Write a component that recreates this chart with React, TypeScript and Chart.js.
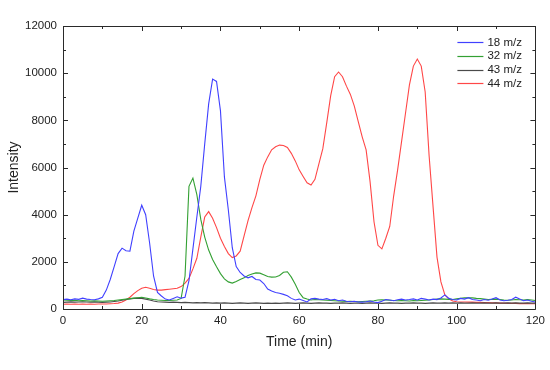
import React, { useEffect, useRef } from "react";
import { Chart, registerables } from "chart.js";

Chart.register(...registerables);

const seriesLabels = ["18 m/z", "32 m/z", "43 m/z", "44 m/z"];
const seriesColors = ["#4040ff", "#33a033", "#4a4a4a", "#ff4747"];

const xTickValues = [0, 20, 40, 60, 80, 100, 120];
const yTickValues = [0, 2000, 4000, 6000, 8000, 10000, 12000];

const mz18 = [
  400, 420, 390, 430, 410, 460, 420, 400, 390, 430,
  500, 800, 1250, 1800, 2350, 2580, 2470, 2450, 3300, 3850,
  4400, 4000, 2800, 1400, 700, 550, 420, 380, 450, 520,
  460, 500, 1200, 2550, 3900, 5200, 7000, 8700, 9750, 9650,
  8400, 5600, 4200, 2600, 1800, 1550, 1400, 1320, 1380, 1250,
  1230, 1080, 850, 760, 700, 670, 620, 560, 450, 380,
  420, 360, 300, 430, 450, 420, 400, 440, 380, 410,
  350, 380, 330, 310, 330, 300, 290, 310, 340, 300,
  270, 330, 400, 380, 350, 390, 420, 380, 400, 430,
  380, 450, 420, 380, 420, 400, 470, 600, 450, 400,
  380, 450, 420, 480, 400, 380, 350, 400, 370, 420,
  480, 380, 350, 370, 400, 500, 420, 350, 380, 330,
  300,
];

const mz32 = [
  380, 370, 360, 370, 350, 360, 350, 340, 350, 340,
  330, 340, 350, 360, 380, 400, 420, 440, 460, 480,
  500, 470, 430, 400, 380, 370, 360, 360, 370, 380,
  450, 1400, 5200, 5550, 4850, 3800, 3050, 2500, 2100, 1790,
  1500, 1280, 1150, 1100, 1170, 1250, 1320, 1420, 1480, 1530,
  1520, 1450, 1380, 1350, 1360, 1420, 1560, 1580, 1350, 1050,
  700, 480, 420, 380, 400, 390, 380, 370, 360, 350,
  340, 330, 320, 330, 320, 310, 320, 330, 340, 350,
  380, 390, 380, 370, 360, 350, 360, 350, 340, 360,
  350, 360, 370, 380, 400, 420, 430, 420, 410, 400,
  430, 450, 470, 480, 470, 450, 440, 420, 400, 410,
  420, 400, 380, 370, 380, 400, 390, 380, 400, 380,
  360,
];

const mz43 = [
  280, 290, 300, 290, 300, 310, 300, 290, 300, 290,
  280, 290, 300, 320, 340, 370, 400, 430, 450, 460,
  450, 420, 380, 340, 310, 300, 290, 280, 290, 280,
  270, 280, 270, 260, 270, 260, 270, 260, 250, 260,
  250, 260, 250, 240, 250, 260, 250, 240, 250, 260,
  250, 240, 250, 240, 250, 240, 250, 260, 250, 240,
  250, 260, 250, 240, 250, 260, 250, 250, 240, 250,
  250, 260, 250, 240, 250, 250, 240, 250, 260, 250,
  250, 240, 250, 260, 250, 250, 240, 250, 250, 260,
  250, 250, 240, 250, 260, 250, 250, 260, 250, 260,
  250, 260, 250, 250, 260, 250, 250, 260, 250, 250,
  260, 250, 250, 260, 250, 260, 250, 250, 260, 250,
  250,
];

const mz44 = [
  200, 210, 200, 210, 200, 210, 200, 210, 200, 210,
  210, 210, 220, 230, 250, 300, 380, 500, 650, 780,
  880, 920, 880, 830, 800, 800, 820, 840, 860, 880,
  950, 1100, 1300, 1700, 2150, 3050, 3900, 4130, 3850, 3450,
  3000, 2650, 2350, 2180, 2250, 2450, 3100, 3750, 4300, 4800,
  5500, 6100, 6450, 6750, 6880, 6950, 6930, 6850, 6600, 6280,
  5900, 5620, 5350, 5260, 5500, 6150, 6800, 7900, 9050, 9850,
  10050, 9850, 9450, 9100, 8600, 7950, 7300, 6750, 5400, 3700,
  2700, 2550, 3000, 3500, 4800, 5900, 7100, 8300, 9500, 10300,
  10600, 10300, 9200, 6500, 4340, 2200, 1150, 600, 430, 340,
  310, 300, 300, 290, 290, 280, 280, 270, 270, 260,
  260, 250, 250, 240, 240, 240, 230, 230, 230, 220,
  220,
];

const allSeries = [mz18, mz32, mz43, mz44];

const FONT = "'Liberation Sans', Arial, sans-serif";
const TEXT = "#222222";

const frameTicksPlugin = {
  id: "frameTicks",
  afterDatasetsDraw(chart: any) {
    const { ctx, chartArea } = chart;
    const { left, right, top, bottom } = chartArea;
    const xs = chart.scales.x;
    const ys = chart.scales.y;
    ctx.save();
    ctx.strokeStyle = "#2a2a2a";
    ctx.lineWidth = 1;
    ctx.beginPath();
    ctx.rect(Math.round(left) + 0.5, Math.round(top) + 0.5, Math.round(right - left), Math.round(bottom - top));
    ctx.stroke();
    ctx.beginPath();
    for (let v = 0; v <= 120; v += 10) {
      const len = v % 20 === 0 ? 5 : 3;
      const px = Math.round(xs.getPixelForValue(v)) + 0.5;
      ctx.moveTo(px, bottom);
      ctx.lineTo(px, bottom - len);
      ctx.moveTo(px, top);
      ctx.lineTo(px, top + len);
    }
    for (let v = 0; v <= 12000; v += 1000) {
      const len = v % 2000 === 0 ? 5 : 3;
      const py = Math.round(ys.getPixelForValue(v)) + 0.5;
      ctx.moveTo(left, py);
      ctx.lineTo(left + len, py);
      ctx.moveTo(right, py);
      ctx.lineTo(right - len, py);
    }
    ctx.stroke();
    ctx.restore();
  },
  afterDraw(chart: any) {
    const { ctx, chartArea } = chart;
    ctx.save();
    ctx.font = `11.5px ${FONT}`;
    ctx.textBaseline = "middle";
    ctx.textAlign = "left";
    const x0 = chartArea.right - 78;
    chart.data.datasets.forEach((ds: any, i: number) => {
      const y = chartArea.top + 16 + i * 13.8;
      ctx.strokeStyle = ds.borderColor;
      ctx.lineWidth = 1.2;
      ctx.beginPath();
      ctx.moveTo(x0, Math.round(y) + 0.5);
      ctx.lineTo(x0 + 26, Math.round(y) + 0.5);
      ctx.stroke();
      ctx.fillStyle = TEXT;
      ctx.fillText(ds.label, x0 + 30, y + 0.5);
    });
    ctx.restore();
  },
};

export default function App() {
  const canvasRef = useRef<HTMLCanvasElement | null>(null);

  useEffect(() => {
    const canvas = canvasRef.current;
    if (!canvas) return;
    const datasets = allSeries.map((vals, i) => ({
      label: seriesLabels[i],
      data: vals.map((v, t) => ({ x: t, y: v })),
      borderColor: seriesColors[i],
      backgroundColor: seriesColors[i],
      borderWidth: 1.1,
      pointRadius: 0,
      fill: false,
      tension: 0,
    }));
    const chart = new Chart(canvas, {
      type: "line",
      data: { datasets },
      plugins: [frameTicksPlugin],
      options: {
        responsive: false,
        animation: false,
        layout: { padding: { left: 0, top: 26, right: 14, bottom: 0 } },
        plugins: { legend: { display: false }, tooltip: { enabled: false } },
        scales: {
          x: {
            type: "linear",
            min: 0,
            max: 120,
            grid: { display: false, drawTicks: false },
            border: { display: false },
            afterBuildTicks: (s: any) => {
              s.ticks = xTickValues.map((v) => ({ value: v }));
            },
            afterFit: (s: any) => {
              s.height = 61;
            },
            ticks: {
              color: TEXT,
              font: { family: FONT, size: 11.5 },
              padding: 5,
              maxRotation: 0,
              autoSkip: false,
              callback: (v: any) => String(v),
            },
            title: {
              display: true,
              text: "Time (min)",
              color: TEXT,
              font: { family: FONT, size: 14 },
              padding: { top: 0, bottom: 19 },
            },
          },
          y: {
            type: "linear",
            min: 0,
            max: 12000,
            grid: { display: false, drawTicks: false },
            border: { display: false },
            afterBuildTicks: (s: any) => {
              s.ticks = yTickValues.map((v) => ({ value: v }));
            },
            afterFit: (s: any) => {
              s.width = 63;
            },
            ticks: {
              color: TEXT,
              font: { family: FONT, size: 11.5 },
              padding: 6,
              autoSkip: false,
              callback: (v: any) => String(v),
            },
            title: {
              display: true,
              text: "Intensity",
              color: TEXT,
              font: { family: FONT, size: 14 },
              padding: { top: 6, bottom: 0 },
            },
          },
        },
      },
    });
    return () => chart.destroy();
  }, []);

  return (
    <div style={{ position: "fixed", left: 0, top: 0, width: 550, height: 370, background: "#fff" }}>
      <canvas ref={canvasRef} width={550} height={370} style={{ display: "block" }} />
    </div>
  );
}
